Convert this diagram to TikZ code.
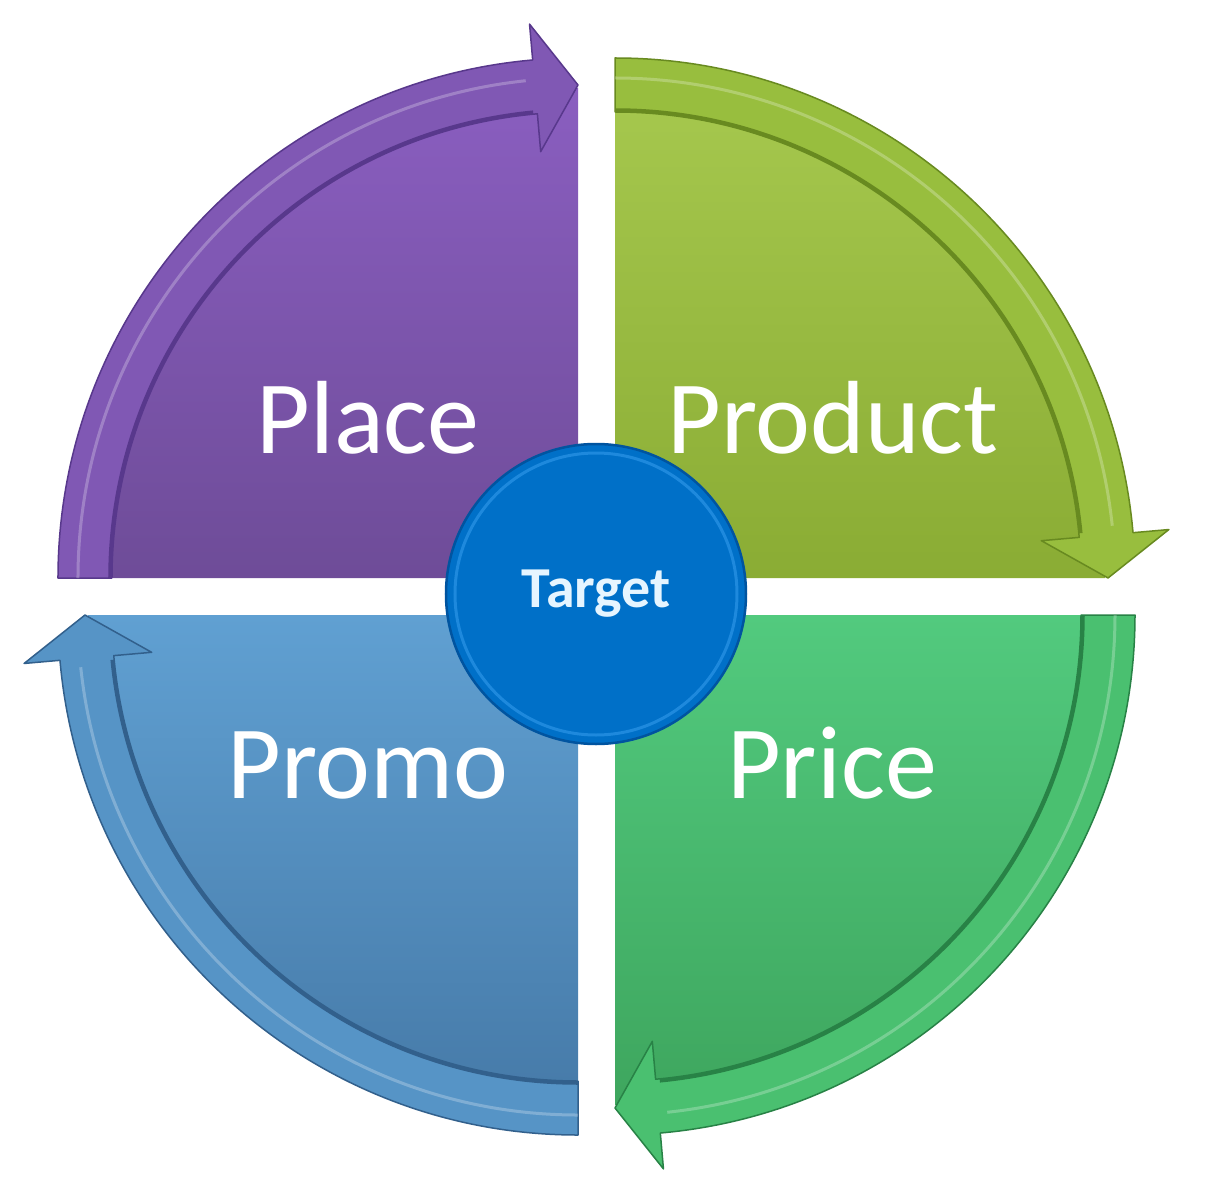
\documentclass[tikz,border=0pt]{standalone}
\usepackage{fontspec}
\setmainfont{Carlito}
\definecolor{plT}{RGB}{138,94,192}
\definecolor{plB}{RGB}{110,76,152}
\definecolor{plBand}{RGB}{128,88,180}
\definecolor{plD}{RGB}{88,56,140}
\definecolor{prT}{RGB}{166,200,78}
\definecolor{prB}{RGB}{138,172,52}
\definecolor{prBand}{RGB}{152,190,62}
\definecolor{prD}{RGB}{104,138,32}
\definecolor{piT}{RGB}{82,202,126}
\definecolor{piB}{RGB}{62,166,94}
\definecolor{piBand}{RGB}{74,192,112}
\definecolor{piD}{RGB}{40,130,70}
\definecolor{poT}{RGB}{96,160,210}
\definecolor{poB}{RGB}{70,122,168}
\definecolor{poBand}{RGB}{86,148,198}
\definecolor{poD}{RGB}{50,96,140}
\definecolor{tgt}{RGB}{0,112,200}
\definecolor{tgtD}{RGB}{0,84,160}
\definecolor{tgtL}{RGB}{50,155,235}
\tikzset{
  pics/qband/.style n args={2}{code={
    \fill[#1] (180:466) -- (180:520) arc[start angle=180,end angle=95,radius=520]
      -- (95:556) -- (90:493) -- (95:428) -- (95:466)
      arc[start angle=95,end angle=180,radius=466] -- cycle;
    \draw[#2, line width=1.5, line join=round] (180:466) -- (180:520) arc[start angle=180,end angle=95,radius=520]
      -- (95:556) -- (90:493) -- (95:428) -- (95:466)
      arc[start angle=95,end angle=180,radius=466] -- cycle;
    \draw[#2, line width=3.5] (180:468) arc[start angle=180,end angle=95.5,radius=468];
    \draw[white, line width=3, opacity=.25] (180:500) arc[start angle=180,end angle=96,radius=500];
  }},
  lbl/.style={text=white, anchor=base, font=\fontsize{104}{104}\selectfont, inner sep=0pt}
}
\begin{document}
\begin{tikzpicture}[x=1pt,y=1pt]
\useasboundingbox (-596.5,-603.5) rectangle (615.5,596.5);
\fill[white] (-596.5,-603.5) rectangle (615.5,596.5);
% bodies
\shade[top color=plT, bottom color=plB] (-18.5,18.5) -- ++(90:490) arc[start angle=90,end angle=180,radius=490] -- cycle;
\shade[top color=prT, bottom color=prB] (18.5,18.5) -- ++(0:490) arc[start angle=0,end angle=90,radius=490] -- cycle;
\shade[top color=piT, bottom color=piB] (18.5,-18.5) -- ++(-90:490) arc[start angle=-90,end angle=0,radius=490] -- cycle;
\shade[top color=poT, bottom color=poB] (-18.5,-18.5) -- ++(180:490) arc[start angle=180,end angle=270,radius=490] -- cycle;
% arrow bands
\pic at (-18.5,18.5) {qband={plBand}{plD}};
\pic[rotate=-90] at (18.5,18.5) {qband={prBand}{prD}};
\pic[rotate=-180] at (18.5,-18.5) {qband={piBand}{piD}};
\pic[rotate=90] at (-18.5,-18.5) {qband={poBand}{poD}};
% labels
\node[lbl] (place) at (-228.5,143.5) {Place};
\node[lbl] (product) at (236.5,143.5) {Product};
\node[lbl] (promo) at (-228.5,-201.5) {Promo};
\node[lbl] (price) at (235.5,-201.5) {Price};
% target
\node[circle, minimum size=300, inner sep=0pt, fill=tgt, draw=tgtD, line width=2.5,
      text={rgb,255:red,230;green,245;blue,255}, font=\bfseries\fontsize{58}{58}\selectfont] (target) at (-0.5,2.5) {Target};
\draw[tgtL, line width=3, opacity=.6] (target.center) circle[radius=141];
\end{tikzpicture}
\end{document}
